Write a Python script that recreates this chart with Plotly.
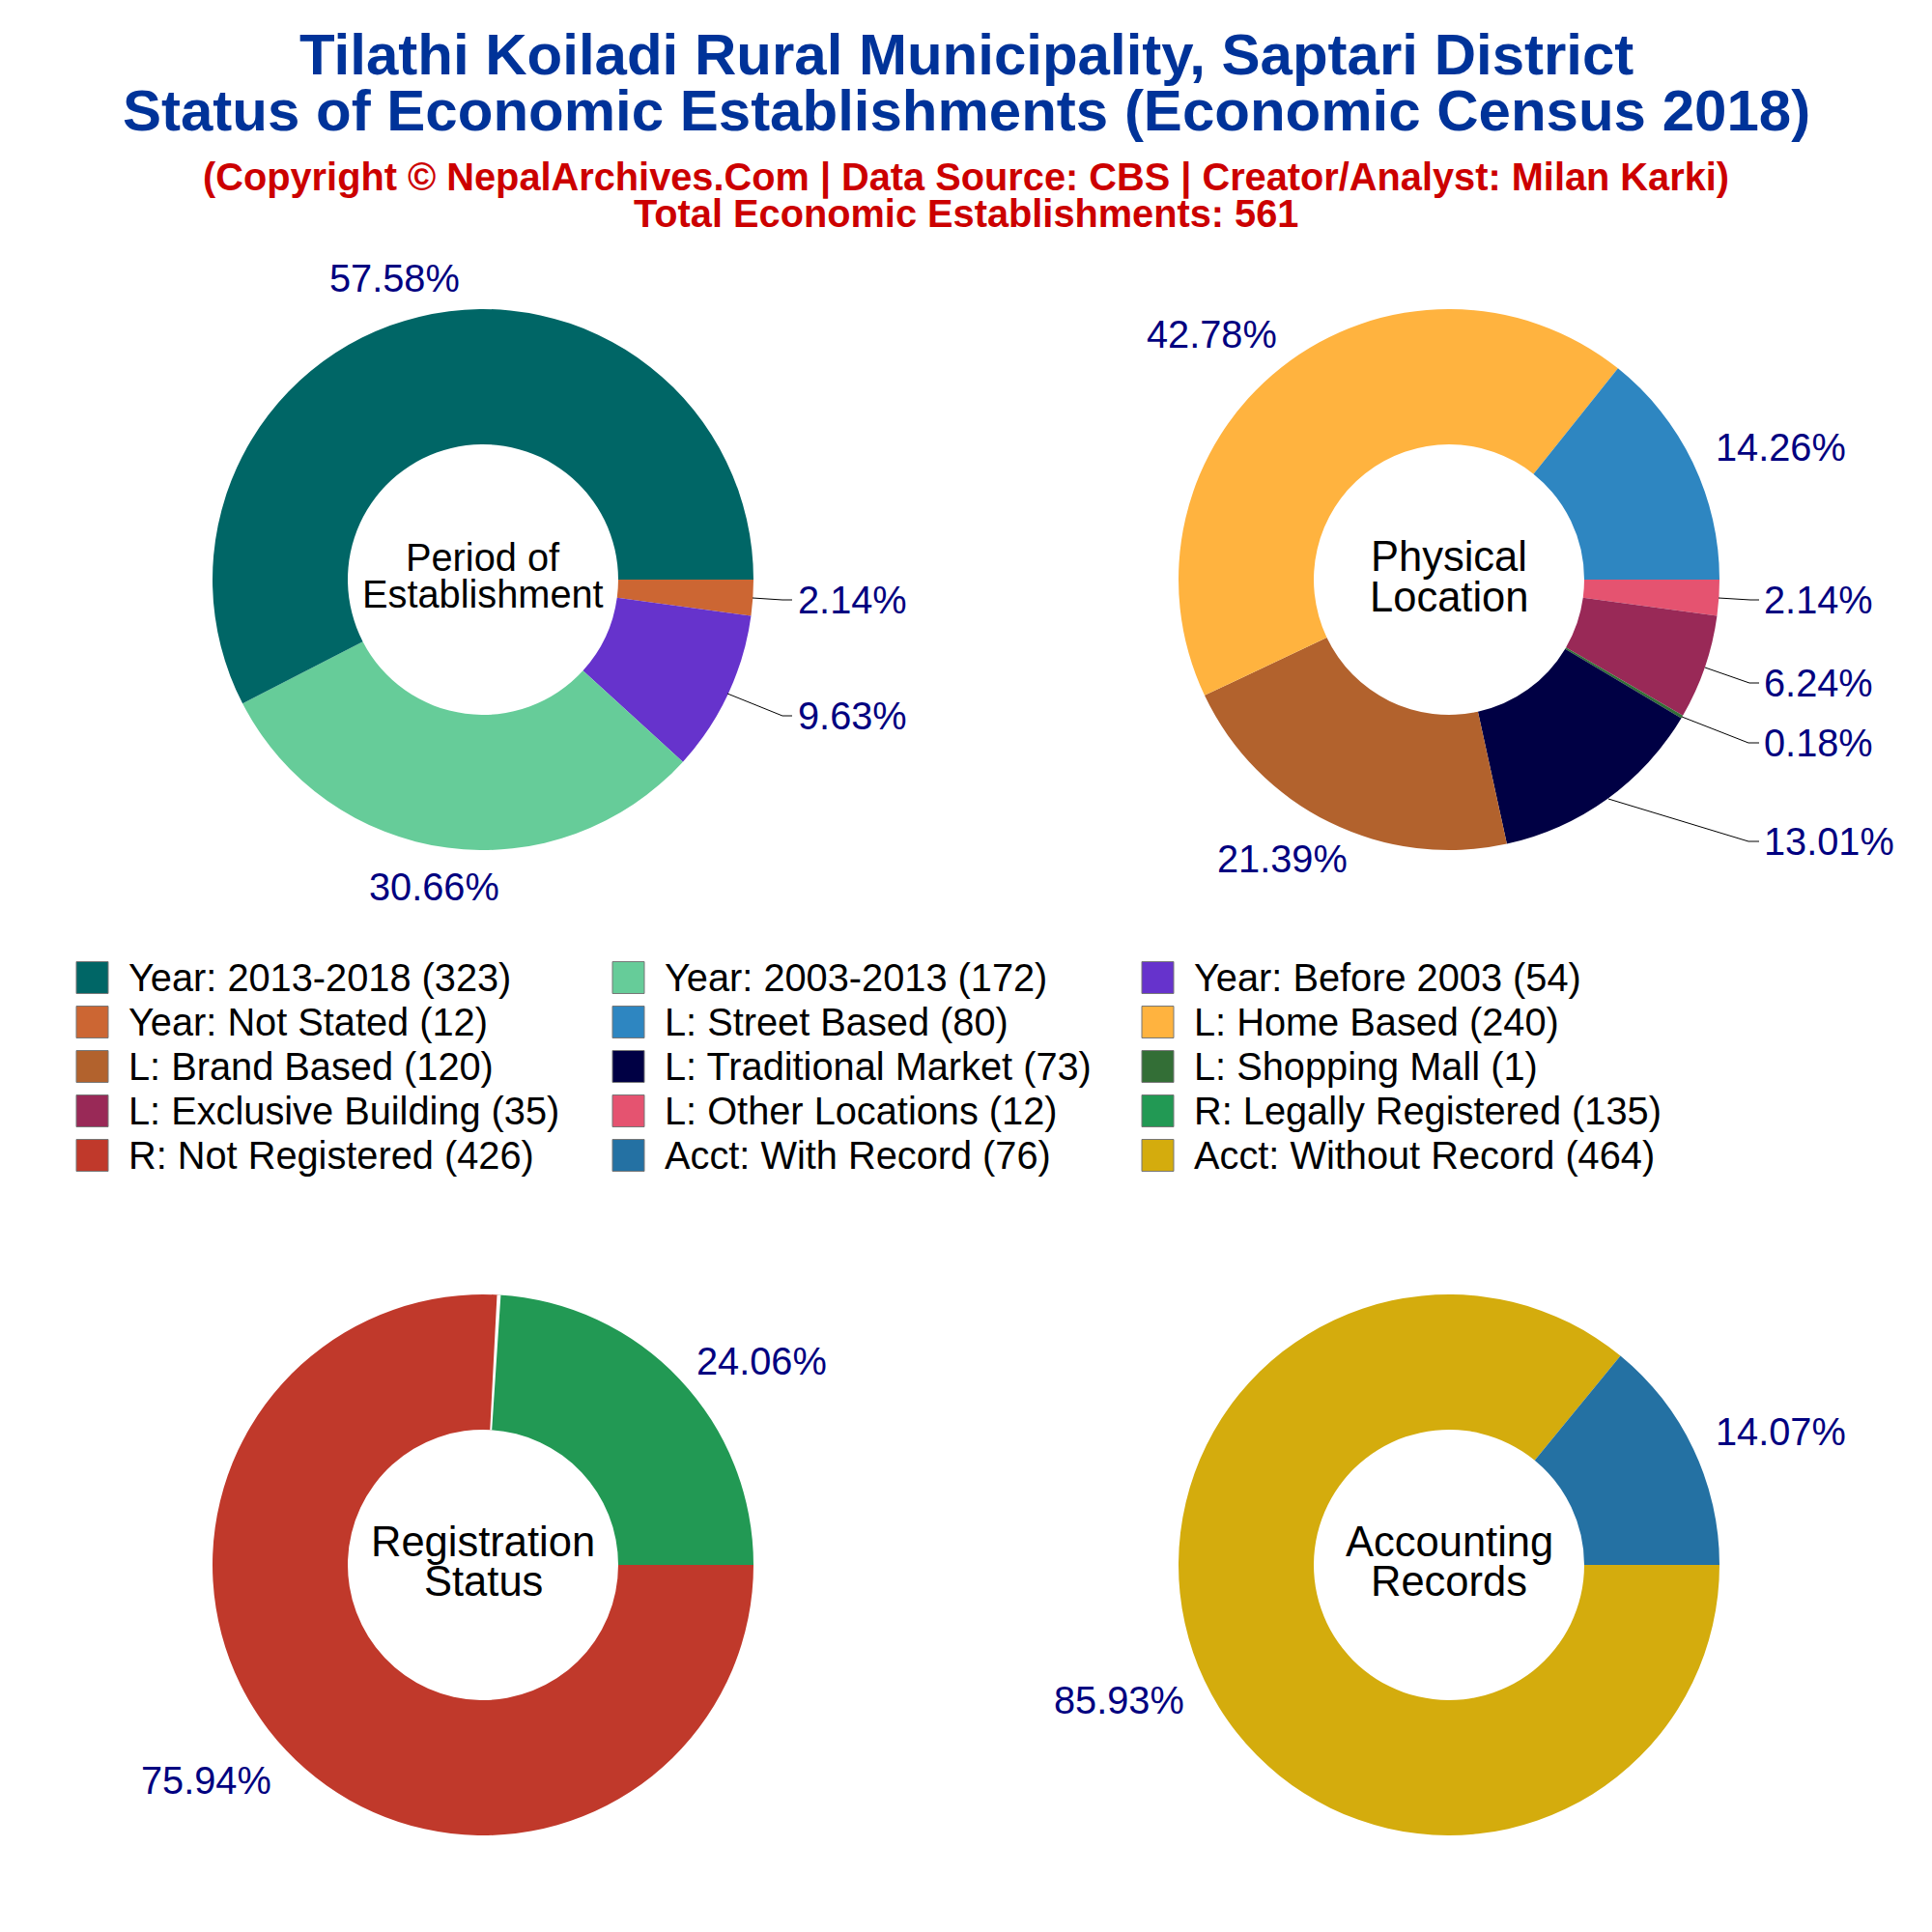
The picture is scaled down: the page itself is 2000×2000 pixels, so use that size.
import plotly.graph_objects as go

# counts per group, same order as the census table
year_labels = ['Year: 2013-2018', 'Year: 2003-2013', 'Year: Before 2003', 'Year: Not Stated']
year_values = [323, 172, 54, 12]
year_colors = ['#006666', '#66CC99', '#6633CC', '#CC6633']

loc_labels = ['L: Street Based', 'L: Home Based', 'L: Brand Based', 'L: Traditional Market',
              'L: Shopping Mall', 'L: Exclusive Building', 'L: Other Locations']
loc_values = [80, 240, 120, 73, 1, 35, 12]
loc_colors = ['#2E86C1', '#FFB33F', '#B2622D', '#000044', '#336E36', '#992957', '#E55370']

reg_labels = ['R: Legally Registered', 'R: Not Registered']
reg_values = [135, 426]
reg_colors = ['#229954', '#C0392B']

acct_labels = ['Acct: With Record', 'Acct: Without Record']
acct_values = [76, 464]
acct_colors = ['#2471A3', '#D4AC0D']

TOTAL = sum(year_values)
FONT = 'Liberation Sans'
LABEL_COLOR = '#000080'
SIZE = 2000
PAGE_MARGIN = 8  # the html body keeps its default margin
SEPARATOR_DEG = 0.8  # thin white gap between the two registration slices

# where each percentage sits: (x, y, anchor), same order as the slices
year_label_pos = [(408, 288, 'center'), (449, 918, 'center'), (823.5, 741, 'left'), (823.5, 621, 'left')]
loc_label_pos = [(1843, 463, 'center'), (1254, 346, 'center'), (1327, 889, 'center'), (1824, 871, 'left'),
                 (1824, 769, 'left'), (1824, 707, 'left'), (1824, 621, 'left')]
reg_label_pos = [(788, 1409, 'center'), (213, 1843, 'center')]
acct_label_pos = [(1843, 1482, 'center'), (1158, 1760, 'center')]

# leader lines for the narrow slices
leaders = [
    [(779, 619), (810, 621), (820, 621)],
    [(753, 718), (810, 741), (820, 741)],
    [(1779, 619), (1812, 621), (1821, 621)],
    [(1765, 691), (1811, 707), (1821, 707)],
    [(1741, 742), (1810, 769), (1821, 769)],
    [(1665, 827), (1810, 871), (1821, 871)],
]


def fx(x):
    return (x - PAGE_MARGIN) / SIZE


def fy(y):
    return 1 - (y - PAGE_MARGIN) / SIZE


def text_at(fig, x, y, text, size, color='black', bold=False, anchor='center'):
    fig.add_annotation(x=fx(x), y=fy(y), xref='paper', yref='paper',
                       text=f'<b>{text}</b>' if bold else text, showarrow=False,
                       xanchor=anchor, yanchor='middle',
                       font=dict(family=FONT, size=size, color=color))


fig = go.Figure()

pies = [
    (year_labels, year_values, year_colors, year_label_pos, 500, 600),
    (loc_labels, loc_values, loc_colors, loc_label_pos, 1500, 600),
    (reg_labels, reg_values, reg_colors, reg_label_pos, 500, 1620),
    (acct_labels, acct_values, acct_colors, acct_label_pos, 1500, 1620),
]
for labels, values, colors, label_pos, cx, cy in pies:
    domain = dict(x=[fx(cx - 280), fx(cx + 280)], y=[fy(cy + 280), fy(cy - 280)])
    # reversed + clockwise: first slice ends up right above 3 o'clock
    fig.add_trace(go.Pie(
        labels=labels[::-1], values=values[::-1], hole=0.5, sort=False,
        direction='clockwise', rotation=90,
        marker=dict(colors=colors[::-1]), showlegend=False,
        domain=domain, textinfo='none',
    ))
    for value, (x, y, anchor) in zip(values, label_pos):
        text_at(fig, x, y, f'{value / sum(values) * 100:.2f}%', 39.75, LABEL_COLOR, anchor=anchor)

    if labels is reg_labels:
        boundary = 90 - 360 * values[0] / sum(values)
        fig.add_trace(go.Pie(
            values=[SEPARATOR_DEG, 360 - SEPARATOR_DEG], hole=0.5, sort=False,
            direction='clockwise', rotation=boundary - SEPARATOR_DEG / 2,
            marker=dict(colors=['white', 'rgba(0,0,0,0)']), showlegend=False,
            domain=domain, textinfo='none', hoverinfo='skip',
        ))

for points in leaders:
    path = 'M ' + ' L '.join(f'{fx(x)},{fy(y)}' for x, y in points)
    fig.add_shape(type='path', xref='paper', yref='paper', path=path,
                  line=dict(color='black', width=1))

# titles
text_at(fig, 1000, 56, 'Tilathi Koiladi Rural Municipality, Saptari District', 60, '#003399', True)
text_at(fig, 1000, 115, 'Status of Economic Establishments (Economic Census 2018)', 60, '#003399', True)
text_at(fig, 1000, 183, '(Copyright © NepalArchives.Com | Data Source: CBS | Creator/Analyst: Milan Karki)', 39.75, '#CC0000', True)
text_at(fig, 1000, 221, f'Total Economic Establishments: {TOTAL}', 39.75, '#CC0000', True)

# donut centres
text_at(fig, 500, 577, 'Period of', 39.75)
text_at(fig, 500, 615, 'Establishment', 39.75)
text_at(fig, 1500, 576, 'Physical', 43.5)
text_at(fig, 1500, 618, 'Location', 43.5)
text_at(fig, 500, 1596, 'Registration', 43.5)
text_at(fig, 500, 1637, 'Status', 43.5)
text_at(fig, 1500, 1596, 'Accounting', 43.5)
text_at(fig, 1500, 1637, 'Records', 43.5)

# legend, three columns filled row by row
legend_labels = year_labels + loc_labels + reg_labels + acct_labels
legend_values = year_values + loc_values + reg_values + acct_values
legend_colors = year_colors + loc_colors + reg_colors + acct_colors
col_x = [79, 634, 1182]
for i, (label, value, color) in enumerate(zip(legend_labels, legend_values, legend_colors)):
    x = col_x[i % 3]
    y = 1012 + (i // 3) * 46
    fig.add_shape(type='rect', xref='paper', yref='paper',
                  x0=fx(x), x1=fx(x + 33), y0=fy(y + 16.5), y1=fy(y - 16.5),
                  fillcolor=color, line=dict(color='#777777', width=1))
    text_at(fig, x + 52, y, f'{label} ({value})', 39.75, anchor='left')

fig.update_layout(width=SIZE, height=SIZE, margin=dict(l=0, r=0, t=0, b=0),
                  paper_bgcolor='white', plot_bgcolor='white')
fig.write_html('out.html')
